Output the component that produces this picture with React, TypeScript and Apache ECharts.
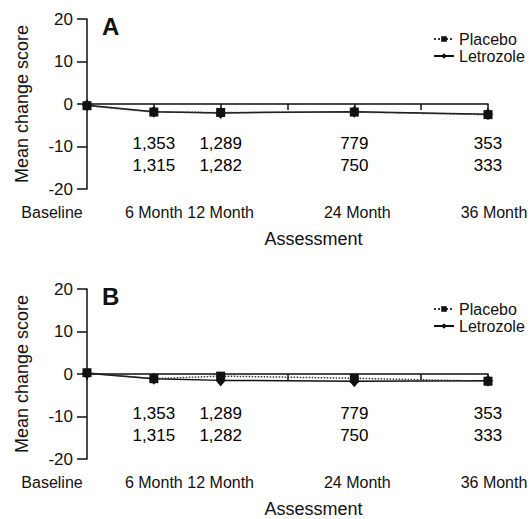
import React, { useEffect, useRef } from "react";
import * as echarts from "echarts";

const FONT = "'Liberation Sans', Arial, Helvetica, sans-serif";

const months = [0, 6, 12, 24, 36];
const placeboA = [-0.4, -1.9, -2.0, -1.9, -2.5];
const letrozoleA = [-0.3, -1.8, -2.1, -1.8, -2.4];
const placeboB = [0.3, -1.1, -0.5, -1.0, -1.7];
const letrozoleB = [0.2, -1.1, -1.5, -1.7, -1.6];

const countMonths = [6, 12, 24, 36];
const countsRow1 = [1353, 1289, 779, 353];
const countsRow2 = [1315, 1282, 750, 333];

const yTicks = { min: -20, max: 20, interval: 10 };
const panelTitles = ["A", "B"];

const fmtN = (n: number) => n.toLocaleString("en-US");

function labelFormatter(v: number): string {
  if (v === 0) return "{l|Baseline}";
  if (v === 6) return "{c|6 Month}";
  if (v === 12) return "{c|12 Month}";
  if (v === 24) return "{m|24 Month}";
  if (v === 36) return "{r|36 Month}";
  return "";
}

export default function App() {
  const ref = useRef<HTMLDivElement>(null);
  useEffect(() => {
    if (!ref.current) return;
    const chart = echarts.init(ref.current, undefined, { renderer: "svg" });
    const grids = [
      { left: 87, top: 19, width: 401, height: 170 },
      { left: 87, top: 289, width: 401, height: 170 },
    ];
    const lineStyleAxis = { color: "#111", width: 1.5 };
    const richBase = { fontSize: 16, fontFamily: FONT, color: "#111" };
    const xAxes: any[] = [];
    const yAxes: any[] = [];
    grids.forEach((_, gi) => {
      xAxes.push({
        type: "value",
        gridIndex: gi,
        min: 0,
        max: 36,
        interval: 6,
        position: "top",
        axisLine: { show: true, onZero: true, lineStyle: lineStyleAxis },
        axisTick: { show: true, inside: true, length: 6, lineStyle: lineStyleAxis },
        axisLabel: { show: false },
        splitLine: { show: false },
      });
      xAxes.push({
        type: "value",
        gridIndex: gi,
        min: 0,
        max: 36,
        interval: 6,
        position: "bottom",
        axisLine: { show: false, onZero: false },
        axisTick: { show: false },
        splitLine: { show: false },
        axisLabel: {
          show: true,
          margin: 15,
          formatter: labelFormatter,
          rich: {
            l: { ...richBase, padding: [0, 70, 0, 0] },
            c: { ...richBase },
            m: { ...richBase, padding: [0, 0, 0, 6] },
            r: { ...richBase, padding: [0, 0, 0, 12] },
          },
        },
        name: "Assessment",
        nameLocation: "middle",
        nameGap: 41,
        nameTextStyle: { fontSize: 18, fontFamily: FONT, color: "#111", padding: [0, 0, 0, 52] },
      });
      yAxes.push({
        type: "value",
        gridIndex: gi,
        min: yTicks.min,
        max: yTicks.max,
        interval: yTicks.interval,
        axisLine: { show: true, onZero: false, lineStyle: lineStyleAxis },
        axisTick: { show: true, length: 10, lineStyle: lineStyleAxis },
        axisLabel: { margin: 14, fontSize: 17, fontFamily: FONT, color: "#111" },
        splitLine: { show: false },
        name: "Mean change score",
        nameLocation: "middle",
        nameGap: 56,
        nameTextStyle: { fontSize: 18, fontFamily: FONT, color: "#111" },
      });
    });

    const panels = [
      { placebo: placeboA, letrozole: letrozoleA },
      { placebo: placeboB, letrozole: letrozoleB },
    ];
    const series: any[] = [];
    panels.forEach((p, gi) => {
      series.push({
        name: "Letrozole",
        type: "line",
        xAxisIndex: gi * 2,
        yAxisIndex: gi,
        data: months.map((m, i) => [m, p.letrozole[i]]),
        symbol: "diamond",
        symbolSize: [10, 12],
        lineStyle: { color: "#111", width: 1.5, type: "solid" },
        itemStyle: { color: "#111" },
        z: 3,
      });
      series.push({
        name: "Placebo",
        type: "line",
        xAxisIndex: gi * 2,
        yAxisIndex: gi,
        data: months.map((m, i) => [m, p.placebo[i]]),
        symbol: "rect",
        symbolSize: 9,
        lineStyle: { color: "#333", width: 1.5, type: "dotted" },
        itemStyle: { color: "#111" },
        z: 4,
      });
      [countsRow1, countsRow2].forEach((row, ri) => {
        series.push({
          name: "n" + gi + ri,
          type: "scatter",
          xAxisIndex: gi * 2,
          yAxisIndex: gi,
          silent: true,
          symbol: "circle",
          symbolSize: 1,
          itemStyle: { color: "#fff", opacity: 1 },
          data: countMonths.map((m, i) => [m, ri === 0 ? -9.4 : -14.4, row[i]]),
          label: {
            show: true,
            position: "inside",
            formatter: (d: any) => fmtN(d.value[2]),
            fontSize: 17,
            fontFamily: FONT,
            color: "#000",
            textBorderWidth: 0,
            opacity: 1,
          },
        });
      });
    });

    chart.setOption({
      animation: false,
      backgroundColor: "#fff",
      title: panelTitles.map((t, i) => ({
        text: t,
        left: 97,
        top: i === 0 ? 9 : 279,
        textStyle: { fontSize: 24, fontWeight: "bold", fontFamily: FONT, color: "#111" },
      })),
      legend: [26, 296].map((top) => ({
        data: ["Placebo", "Letrozole"],
        orient: "vertical",
        left: 428,
        top,
        itemWidth: 20,
        itemHeight: 7,
        itemGap: 1,
        textStyle: { fontSize: 16, fontFamily: FONT, color: "#111" },
      })),
      grid: grids,
      xAxis: xAxes,
      yAxis: yAxes,
      series,
    });
    return () => chart.dispose();
  }, []);
  return (
    <div
      ref={ref}
      style={{ position: "fixed", left: 0, top: 0, width: 532, height: 519, background: "#fff" }}
    />
  );
}
